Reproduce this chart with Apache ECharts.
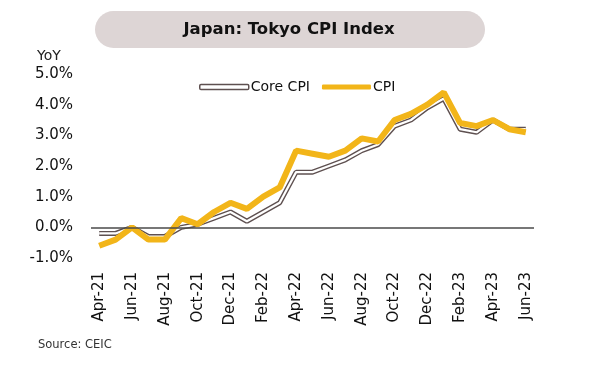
<!DOCTYPE html>
<html><head><meta charset="utf-8">
<script src="https://cdn.jsdelivr.net/npm/echarts@6/dist/echarts.min.js"></script>
<style>html,body{margin:0;padding:0;background:#fff}#c{width:600px;height:378px}</style>
</head><body><div id="c"></div>
<script>
const categories = ['Apr-21','May-21','Jun-21','Jul-21','Aug-21','Sep-21','Oct-21','Nov-21','Dec-21','Jan-22','Feb-22','Mar-22','Apr-22','May-22','Jun-22','Jul-22','Aug-22','Sep-22','Oct-22','Nov-22','Dec-22','Jan-23','Feb-23','Mar-23','Apr-23','May-23','Jun-23'];
const coreCPI = [-0.2,-0.2,0.0,-0.3,-0.3,0.0,0.1,0.3,0.5,0.2,0.5,0.8,1.8,1.8,2.0,2.2,2.5,2.7,3.3,3.5,3.9,4.2,3.2,3.1,3.5,3.2,3.2];
const cpi = [-0.6,-0.4,0.0,-0.4,-0.4,0.3,0.1,0.5,0.8,0.6,1.0,1.3,2.5,2.4,2.3,2.5,2.9,2.8,3.5,3.7,4.0,4.4,3.4,3.3,3.5,3.2,3.1];
const yTicks = {min:-1, max:5, interval:1};

const FONT = 'DejaVu Sans';
const chart = echarts.init(document.getElementById('c'), null, {renderer:'canvas'});
chart.setOption({
  animation:false,
  textStyle:{fontFamily:FONT},
  graphic:[
    {type:'rect', shape:{x:95,y:11,width:390,height:37,r:18.5}, style:{fill:'#ddd5d5'}},
    {type:'text', x:289, y:29.5, style:{text:'Japan: Tokyo CPI Index', font:'bold 16.5px "DejaVu Sans"', fill:'#111', textAlign:'center', textVerticalAlign:'middle'}},
    {type:'text', x:37, y:56, style:{text:'YoY', font:'14px "DejaVu Sans"', fill:'#222', textVerticalAlign:'middle'}},
    {type:'text', x:38, y:345, style:{text:'Source: CEIC', font:'11.5px "DejaVu Sans"', fill:'#333', textVerticalAlign:'middle'}}
  ],
  legend:{
    top:75, left:194, itemWidth:49, itemHeight:5, itemGap:12,
    textStyle:{fontSize:14, color:'#111', fontFamily:FONT, padding:[0,0,0,-3]},
    data:[
      {name:'Core CPI', icon:'roundRect', itemStyle:{color:'#fff', borderColor:'#5e5050', borderWidth:1.5}},
      {name:'CPI', icon:'roundRect', itemStyle:{color:'#f2b519'}}
    ]
  },
  grid:{left:91, right:66, top:74, bottom:120},
  xAxis:{
    type:'category', data:categories, boundaryGap:true,
    axisLine:{show:false, onZero:false}, axisTick:{show:false},
    axisLabel:{rotate:90, interval:1, margin:14, fontSize:15, color:'#111', fontFamily:FONT}
  },
  yAxis:{
    type:'value', min:yTicks.min, max:yTicks.max, interval:yTicks.interval,
    splitLine:{show:false}, axisLine:{show:false}, axisTick:{show:false},
    axisLabel:{margin:18, fontSize:15, color:'#111', fontFamily:FONT, formatter:v=>v.toFixed(1)+'%'}
  },
  series:[
    {name:'Core CPI', type:'line', data:coreCPI, symbol:'none', lineStyle:{color:'#5e5050', width:5}, itemStyle:{color:'#5e5050'},
     markLine:{silent:true, symbol:'none', label:{show:false}, lineStyle:{color:'#4a4a4a', width:1.5, type:'solid'}, data:[{yAxis:0}]}},
    {name:'Core CPI inner', type:'line', data:coreCPI, symbol:'none', lineStyle:{color:'#ffffff', width:2.2}, itemStyle:{color:'#fff'}},
    {name:'CPI', type:'line', data:cpi, symbol:'none', lineStyle:{color:'#f2b519', width:6}, itemStyle:{color:'#f2b519'}}
  ]
});
</script></body></html>
